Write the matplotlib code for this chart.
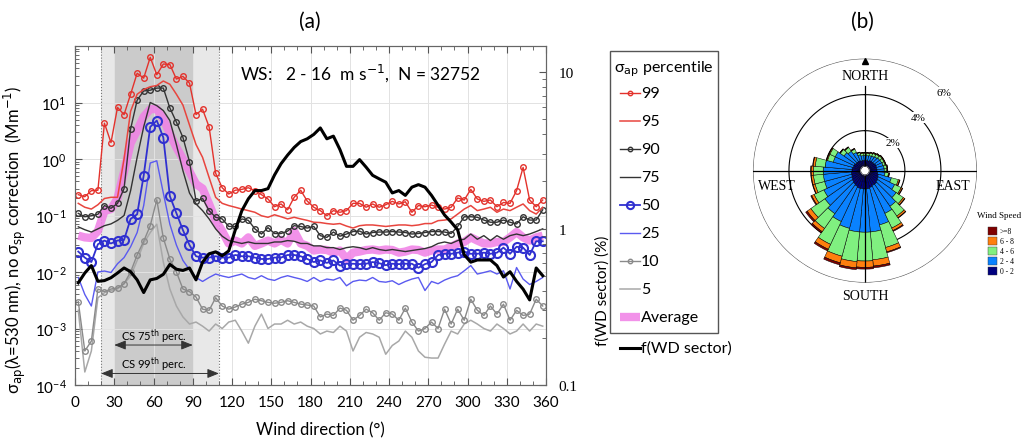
import numpy as np
import matplotlib
matplotlib.use('Agg')
import matplotlib.pyplot as plt
from matplotlib.patches import Rectangle
from matplotlib.ticker import MultipleLocator, FixedLocator, LogLocator, FuncFormatter, NullFormatter

plt.rcParams['font.family'] = ['Lato', 'DejaVu Sans']
plt.rcParams['mathtext.fontset'] = 'dejavusans'

# %% data (5 deg wind-direction bins)
wd = np.arange(2.5, 360, 5)

p99 = [0.234, 0.215, 0.275, 0.28, 4.3, 1.95, 8.2, 6.1, 14, 33, 27, 63, 31, 48, 47, 26, 29, 22,
       6.1, 7.6, 3.7, 0.56, 0.31, 0.24, 0.28, 0.29, 0.31, 0.275, 0.234, 0.196, 0.143, 0.16, 0.126, 0.21, 0.28, 0.18,
       0.14, 0.122, 0.099, 0.122, 0.114, 0.122, 0.164, 0.164, 0.14, 0.16, 0.14, 0.155, 0.178, 0.16, 0.175, 0.114, 0.15, 0.143,
       0.153, 0.14, 0.13, 0.14, 0.204, 0.188, 0.29, 0.196, 0.178, 0.188, 0.143, 0.17, 0.164, 0.275, 0.71, 0.188, 0.143, 0.188]
p95 = [0.164, 0.14, 0.13, 0.155, 0.2, 0.21, 0.21, 1.0, 7, 14, 17, 19, 20, 24, 21, 14, 9, 4,
       1.8, 1.07, 0.47, 0.21, 0.164, 0.15, 0.14, 0.13, 0.122, 0.114, 0.099, 0.093, 0.103, 0.095, 0.087, 0.093, 0.087, 0.082,
       0.076, 0.075, 0.072, 0.07, 0.072, 0.065, 0.06, 0.066, 0.068, 0.068, 0.066, 0.064, 0.066, 0.068, 0.068, 0.066, 0.068, 0.072,
       0.072, 0.081, 0.083, 0.087, 0.106, 0.13, 0.15, 0.122, 0.13, 0.14, 0.114, 0.13, 0.122, 0.14, 0.16, 0.122, 0.106, 0.14]
p90 = [0.109, 0.095, 0.099, 0.105, 0.15, 0.134, 0.164, 0.3, 3.4, 11, 16, 16.5, 18, 18, 8, 4.5, 2.4, 0.9,
       0.18, 0.2, 0.122, 0.093, 0.087, 0.064, 0.064, 0.087, 0.082, 0.058, 0.047, 0.061, 0.048, 0.048, 0.053, 0.066, 0.064, 0.06,
       0.064, 0.044, 0.041, 0.051, 0.043, 0.047, 0.052, 0.053, 0.047, 0.05, 0.051, 0.051, 0.052, 0.051, 0.05, 0.047, 0.048, 0.05,
       0.052, 0.052, 0.051, 0.048, 0.064, 0.095, 0.095, 0.093, 0.083, 0.076, 0.076, 0.083, 0.076, 0.071, 0.095, 0.083, 0.083, 0.126]
p75 = [0.063, 0.056, 0.051, 0.058, 0.066, 0.071, 0.082, 0.1, 0.275, 1.07, 3.7, 10, 8.8, 7.2, 4.8, 1.8, 0.62, 0.25,
       0.16, 0.122, 0.087, 0.058, 0.043, 0.036, 0.034, 0.032, 0.034, 0.032, 0.032, 0.032, 0.034, 0.034, 0.036, 0.035, 0.032, 0.032,
       0.029, 0.029, 0.027, 0.027, 0.025, 0.027, 0.028, 0.027, 0.025, 0.027, 0.025, 0.024, 0.025, 0.024, 0.023, 0.024, 0.025, 0.026,
       0.028, 0.032, 0.034, 0.032, 0.036, 0.038, 0.047, 0.038, 0.044, 0.036, 0.044, 0.038, 0.044, 0.047, 0.044, 0.047, 0.052, 0.058]
p50 = [0.023, 0.018, 0.015, 0.031, 0.036, 0.032, 0.036, 0.037, 0.087, 0.105, 0.51, 3.7, 4.8, 2.4, 0.22, 0.11, 0.055, 0.03,
       0.019, 0.018, 0.018, 0.019, 0.018, 0.018, 0.02, 0.019, 0.019, 0.018, 0.017, 0.017, 0.018, 0.018, 0.02, 0.02, 0.019, 0.017,
       0.015, 0.016, 0.0145, 0.016, 0.013, 0.014, 0.014, 0.0138, 0.014, 0.015, 0.0143, 0.0132, 0.014, 0.0138, 0.014, 0.014, 0.0119, 0.0138,
       0.015, 0.02, 0.021, 0.021, 0.022, 0.023, 0.021, 0.021, 0.022, 0.021, 0.022, 0.027, 0.021, 0.028, 0.027, 0.02, 0.035, 0.035]
p25 = [0.008, 0.004, 0.0025, 0.01, 0.0104, 0.0098, 0.014, 0.018, 0.028, 0.05, 0.15, 0.85, 0.93, 0.25, 0.07, 0.03, 0.016, 0.011,
       0.008, 0.0068, 0.008, 0.0092, 0.0085, 0.008, 0.0086, 0.0092, 0.008, 0.0075, 0.0086, 0.0075, 0.0071, 0.008, 0.0086, 0.008, 0.0075, 0.0068,
       0.008, 0.0068, 0.0075, 0.0072, 0.008, 0.0057, 0.0068, 0.0072, 0.007, 0.008, 0.0068, 0.0066, 0.007, 0.006, 0.0068, 0.0075, 0.008, 0.0047,
       0.0068, 0.0062, 0.0072, 0.008, 0.0086, 0.0105, 0.013, 0.0092, 0.0098, 0.0105, 0.0092, 0.0105, 0.005, 0.012, 0.0075, 0.006, 0.0068, 0.008]
p10 = [0.003, 0.0004, 0.0006, 0.005, 0.0045, 0.005, 0.0052, 0.0062, 0.01, 0.02, 0.035, 0.066, 0.19, 0.04, 0.017, 0.01, 0.005, 0.0045,
       0.0036, 0.0022, 0.0021, 0.0035, 0.0025, 0.0022, 0.0024, 0.0027, 0.0029, 0.0033, 0.0031, 0.0029, 0.0028, 0.0029, 0.0031, 0.0029, 0.0027, 0.0026,
       0.0025, 0.0016, 0.0018, 0.0017, 0.0023, 0.0021, 0.0014, 0.0017, 0.0022, 0.0019, 0.0014, 0.0019, 0.0018, 0.0014, 0.0023, 0.0013, 0.0009, 0.001,
       0.0013, 0.001, 0.0022, 0.0012, 0.0022, 0.0014, 0.0033, 0.0021, 0.0017, 0.0025, 0.0018, 0.0027, 0.0014, 0.0021, 0.0017, 0.0018, 0.0033, 0.0025]
p5 = [0.0021, 0.00017, 0.0004, 0.0035, 0.0043, 0.0047, 0.005, 0.0062, 0.0085, 0.016, 0.032, 0.05, 0.07, 0.015, 0.005, 0.0025, 0.0016, 0.0012,
      0.0013, 0.0011, 0.0009, 0.0012, 0.001, 0.0013, 0.0014, 0.0009, 0.00055, 0.0011, 0.0018, 0.001, 0.0012, 0.0012, 0.0014, 0.0012, 0.0013, 0.0011,
      0.001, 0.0008, 0.0009, 0.00085, 0.0011, 0.0009, 0.0004, 0.0007, 0.00085, 0.0008, 0.0007, 0.00035, 0.0005, 0.0006, 0.0009, 0.0007, 0.0004, 0.00031,
      0.0003, 0.0003, 0.00053, 0.0009, 0.0008, 0.0012, 0.0014, 0.0012, 0.001, 0.0009, 0.0012, 0.001, 0.0008, 0.0009, 0.0012, 0.0009, 0.0012, 0.0011]
avg = [0.044, 0.041, 0.04, 0.053, 0.12, 0.13, 0.2, 0.6, 1.9, 3.2, 5.6, 7.6, 7.7, 5.1, 2.8, 1.6, 1.0, 0.6,
       0.36, 0.3, 0.16, 0.082, 0.053, 0.032, 0.036, 0.032, 0.041, 0.029, 0.032, 0.036, 0.032, 0.037, 0.032, 0.053, 0.032, 0.029,
       0.024, 0.025, 0.0245, 0.022, 0.024, 0.017, 0.022, 0.023, 0.0245, 0.025, 0.024, 0.025, 0.0245, 0.022, 0.023, 0.025, 0.0245, 0.022,
       0.024, 0.025, 0.025, 0.028, 0.032, 0.034, 0.041, 0.036, 0.032, 0.032, 0.034, 0.034, 0.041, 0.051, 0.041, 0.036, 0.041, 0.044]
# frequency of each WD sector (%), right axis
fwd = [0.45, 0.52, 0.58, 0.46, 0.465, 0.485, 0.52, 0.56, 0.53, 0.47, 0.39, 0.47, 0.48, 0.51, 0.59, 0.55, 0.54, 0.56,
       0.47, 0.61, 0.69, 0.71, 0.67, 0.72, 0.98, 1.3, 1.55, 1.75, 1.75, 1.8, 2.2, 2.6, 2.95, 3.3, 3.6, 3.75,
       4.0, 4.4, 3.75, 3.9, 3.2, 2.5, 2.5, 2.76, 2.47, 2.19, 2.08, 1.98, 1.69, 1.75, 1.63, 1.84, 1.91, 1.84,
       1.63, 1.41, 1.22, 1.1, 0.98, 0.68, 0.61, 0.63, 0.63, 0.63, 0.58, 0.49, 0.53, 0.46, 0.41, 0.35, 0.56, 0.5]

# wind rose (b): % per 10 deg sector, by speed class
rose_dir = np.arange(0, 360, 10)
ws_0_2 = [0.35, 0.35, 0.35, 0.4, 0.4, 0.4, 0.45, 0.45, 0.45, 0.45, 0.5, 0.55, 0.6, 0.65, 0.7, 0.7, 0.75, 0.8,
          0.8, 0.8, 0.8, 0.75, 0.7, 0.65, 0.6, 0.55, 0.55, 0.5, 0.5, 0.45, 0.45, 0.4, 0.4, 0.4, 0.35, 0.35]
ws_2_4 = [0.27, 0.27, 0.3, 0.28, 0.33, 0.38, 0.35, 0.37, 0.4, 0.4, 0.4, 0.75, 1.0, 1.25, 1.5, 1.7, 2.15, 2.4,
          2.4, 2.4, 2.3, 2.15, 2.0, 1.85, 1.7, 1.55, 1.55, 1.6, 1.5, 1.15, 1.15, 0.8, 0.7, 0.5, 0.35, 0.27]
ws_4_6 = [0.13, 0.13, 0.14, 0.16, 0.16, 0.16, 0.14, 0.12, 0.14, 0.14, 0.19, 0.4, 0.4, 0.48, 0.66, 0.9, 1.3, 1.55,
          1.6, 1.65, 1.6, 1.4, 1.0, 0.95, 0.6, 0.55, 0.55, 0.55, 0.55, 0.33, 0.33, 0.25, 0.25, 0.2, 0.12, 0.13]
ws_6_8 = [0.03, 0.03, 0.04, 0.04, 0.04, 0.04, 0.04, 0.04, 0.04, 0.04, 0.04, 0.07, 0.07, 0.09, 0.11, 0.15, 0.25, 0.35,
          0.35, 0.35, 0.38, 0.3, 0.22, 0.25, 0.15, 0.12, 0.12, 0.12, 0.12, 0.05, 0.05, 0.03, 0.03, 0.03, 0.02, 0.03]
ws_8up = [0.02, 0.02, 0.02, 0.02, 0.02, 0.02, 0.02, 0.02, 0.02, 0.02, 0.02, 0.03, 0.03, 0.03, 0.03, 0.05, 0.05, 0.1,
          0.1, 0.1, 0.12, 0.1, 0.08, 0.1, 0.05, 0.03, 0.03, 0.03, 0.03, 0.02, 0.02, 0.02, 0.02, 0.02, 0.01, 0.02]
ws_labels = ['>=8', '6 - 8', '4 - 6', '2 - 4', '0 - 2']

# %% styles
series = [
    ('99', p99, dict(color='#e3322c', lw=1.0, marker='o', ms=4, mfc='none', mew=1.0)),
    ('95', p95, dict(color='#e8453e', lw=1.1)),
    ('90', p90, dict(color='#333333', lw=1.0, marker='o', ms=4, mfc='none', mew=1.0)),
    ('75', p75, dict(color='#333333', lw=1.0)),
    ('50', p50, dict(color='#3030d0', lw=1.3, marker='o', ms=6.5, mfc='none', mew=1.5)),
    ('25', p25, dict(color='#5a5af0', lw=1.0)),
    ('10', p10, dict(color='#8a8a8a', lw=1.0, marker='o', ms=4, mfc='none', mew=1.0)),
    ('5', p5, dict(color='#a8a8a8', lw=1.1)),
]
avg_style = dict(color='#f07fe6', lw=6, alpha=0.85, solid_capstyle='butt')
fwd_style = dict(color='k', lw=2.2)

fig = plt.figure(figsize=(10.24, 4.39), dpi=100)

# %% panel (a)
ax = fig.add_axes([75/1024, 1 - 386/439, 471/1024, 339/439])
ax.set_yscale('log')
ax.set_xlim(0, 360)
ax.set_ylim(1e-4, 1e2)
ax.axvspan(20, 110, color='#e8e8e8', zorder=0.2, lw=0)
ax.axvspan(30, 90, color='#cbcbcb', zorder=0.3, lw=0)
for xv in (20, 110):
    ax.axvline(xv, color='#777777', ls=':', lw=0.8, zorder=0.4)
ax.grid(True, which='major', color='#e2e2e2', lw=0.7, zorder=0.1)
ax.set_axisbelow(True)

ax.plot(wd, avg, zorder=1.5, **avg_style)
for name, vals, st in reversed(series):
    ax.plot(wd, vals, zorder=2, **st)

ax.xaxis.set_major_locator(MultipleLocator(30))
ax.xaxis.set_minor_locator(MultipleLocator(10))
ax.yaxis.set_major_locator(FixedLocator([1e-4, 1e-3, 1e-2, 1e-1, 1e0, 1e1]))
ax.yaxis.set_minor_locator(LogLocator(base=10, subs=np.arange(2, 10), numticks=20))
ax.yaxis.set_minor_formatter(NullFormatter())
ax.tick_params(which='both', direction='in', top=True, right=False, labelsize=11, color='#555555')
ax.tick_params(which='major', length=5)
ax.tick_params(which='minor', length=3)
ax.tick_params(axis='x', pad=7)
ax.tick_params(axis='y', pad=6)
for s in ax.spines.values():
    s.set_color('#666666')

ax.set_xlabel('Wind direction (°)', fontsize=12)
ax.xaxis.set_label_coords(0.522, -0.108)
ax.set_ylabel('σ$_{\\mathrm{ap}}$(λ=530 nm), no σ$_{\\mathrm{sp}}$ correction  (Mm$^{-1}$)', fontsize=12)
ax.yaxis.set_label_coords(-0.1, 0.43)

ax.text(126, 35, 'WS:   2 - 16  m s$^{-1}$,  N = 32752', fontsize=12.5, va='center', ha='left')

arrow_kw = dict(arrowstyle='<|-|>,head_length=0.7,head_width=0.28', color='#333333', lw=0.7,
                shrinkA=0, shrinkB=0)
ax.annotate('', xy=(30, 5.1e-4), xytext=(90, 5.1e-4), arrowprops=arrow_kw)
ax.annotate('', xy=(20, 1.6e-4), xytext=(110, 1.6e-4), arrowprops=arrow_kw)
ax.text(60, 7.6e-4, 'CS 75$^{\\mathrm{th}}$ perc.', fontsize=8, ha='center', va='center')
ax.text(60, 2.35e-4, 'CS 99$^{\\mathrm{th}}$ perc.', fontsize=8, ha='center', va='center')

ax2 = ax.twinx()
ax2.set_yscale('log')
ax2.set_ylim(0.1, 14.7)
ax2.plot(wd, fwd, zorder=3, **fwd_style)
ax2.yaxis.set_major_locator(FixedLocator([0.1, 1, 10]))
ax2.yaxis.set_major_formatter(FuncFormatter(lambda v, p: f'{v:g}'))
ax2.yaxis.set_minor_locator(LogLocator(base=10, subs=np.arange(2, 10), numticks=20))
ax2.yaxis.set_minor_formatter(NullFormatter())
ax2.tick_params(which='both', direction='in', labelsize=11, pad=9, color='#555555')
ax2.tick_params(which='major', length=5)
ax2.tick_params(which='minor', length=3)
for lab in ax2.get_yticklabels():
    lab.set_family('Liberation Serif')
ax2.set_ylabel('f(WD sector) (%)', fontsize=11)
ax2.yaxis.set_label_coords(1.104, 0.28)
for s in ax2.spines.values():
    s.set_color('#666666')

# %% panel (b) wind rose
rax = fig.add_axes([0.7353, 0.3539, 0.21875, 0.5103], projection='polar')
rax.set_theta_zero_location('N')
rax.set_theta_direction(-1)
rax.set_rorigin(-0.22)
rax.set_ylim(0, 6)
rax.axis('off')

rose_cols = ['#00007f', '#0a82ff', '#80f080', '#ff7f0e', '#7f0000']
theta = np.deg2rad(rose_dir)
base = np.zeros(len(rose_dir))
for vals, col in zip([ws_0_2, ws_2_4, ws_4_6, ws_6_8, ws_8up], rose_cols):
    rax.bar(theta, vals, width=np.deg2rad(10), bottom=base, color=col, edgecolor='k', lw=0.35, zorder=2)
    base = base + np.array(vals)

ring = np.linspace(0, 2*np.pi, 400)
for r, c in ((2, 'k'), (4, 'k'), (6, '#555555')):
    rax.plot(ring, np.full_like(ring, r), color=c, lw=0.8, zorder=1)
rax.fill(ring, np.zeros_like(ring), color='white', zorder=4)
rax.plot(ring, np.zeros_like(ring), color='k', lw=0.6, zorder=4)
rax.plot([np.pi/2, np.pi/2], [0, 6], color='k', lw=0.9, zorder=3)
rax.plot([3*np.pi/2, 3*np.pi/2], [0, 6], color='k', lw=0.9, zorder=3)
rax.plot([0, 0], [0, 4.5], color='k', lw=0.9, zorder=3)
rax.plot([np.pi, np.pi], [0, 6], color='k', lw=0.9, zorder=3)
rax.plot([0], [5.85], marker='^', color='k', ms=4.5, zorder=5, clip_on=False)
for r in (2, 4, 6):
    rax.text(np.deg2rad(45), r - 0.05, f'{r}%', fontsize=8, ha='center', va='center', family='Liberation Serif',
             bbox=dict(fc='white', ec='none', pad=0.6), zorder=5)

# %% overlay for titles, legends and compass labels (pixel coordinates)
lay = fig.add_axes([0, 0, 1, 1], zorder=10)
lay.set_xlim(0, 1024)
lay.set_ylim(439, 0)
lay.axis('off')

lay.text(310, 22, '(a)', fontsize=15, ha='center', va='center')
lay.text(862, 22, '(b)', fontsize=15, ha='center', va='center')

lay.add_patch(Rectangle((610, 52), 108, 282, fill=False, ec='#555555', lw=1.0))
lay.text(614, 69, 'σ$_{\\mathrm{ap}}$ percentile', fontsize=11.5, va='center', ha='left')
row0, step = 94, 28
for k, (name, vals, st) in enumerate(series):
    y = row0 + step * k
    hs = dict(st)
    lay.plot([620, 640], [y, y], color=hs['color'], lw=hs['lw'])
    if 'marker' in hs:
        lay.plot([630], [y], ls='none', marker=hs['marker'], ms=hs['ms'] * 0.8, mfc='none',
                 mec=hs['color'], mew=hs['mew'])
    lay.text(641, y, name, fontsize=11.5, va='center', ha='left')
y_avg = row0 + step * len(series)
lay.plot([620, 640], [y_avg, y_avg], **avg_style)
lay.text(641, y_avg, 'Average', fontsize=11.5, va='center', ha='left')
lay.plot([620, 640], [349, 349], **fwd_style)
lay.text(641, 349, 'f(WD sector)', fontsize=11.5, va='center', ha='left')

serif = 'Liberation Serif'
lay.text(865, 77, 'NORTH', fontsize=10, ha='center', va='center', family=serif)
lay.text(865, 297, 'SOUTH', fontsize=10, ha='center', va='center', family=serif)
lay.text(777, 187, 'WEST', fontsize=10, ha='center', va='center', family=serif)
lay.text(953, 187, 'EAST', fontsize=10, ha='center', va='center', family=serif)

lay.text(999, 216, 'Wind Speed', fontsize=6.5, ha='center', va='center', family=serif)
for k, (lab, col) in enumerate(zip(ws_labels, rose_cols[::-1])):
    y = 232 + 10 * k
    lay.add_patch(Rectangle((988, y - 4), 9, 8, fc=col, ec='#333333', lw=0.3))
    lay.text(999.5, y, lab, fontsize=5.5, ha='left', va='center', family=serif)

fig.savefig('out.png', dpi=100)
